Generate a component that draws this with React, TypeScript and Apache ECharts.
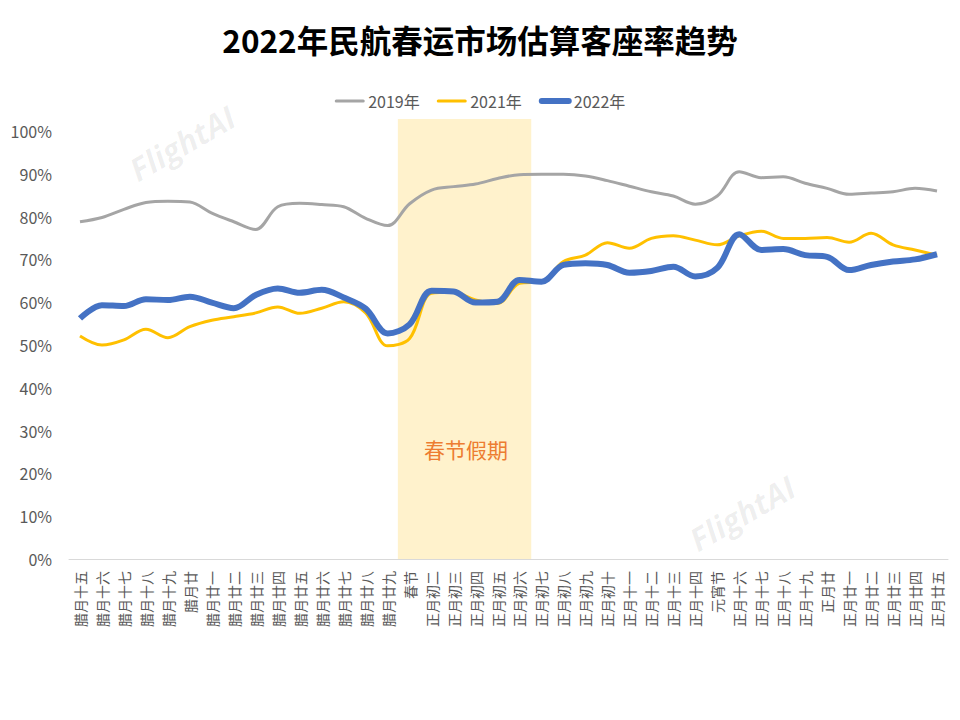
import React, { useEffect, useRef } from "react";
import * as echarts from "echarts";

const categories = [
  "腊月十五", "腊月十六", "腊月十七", "腊月十八", "腊月十九", "腊月廿", "腊月廿一", "腊月廿二", "腊月廿三", "腊月廿四",
  "腊月廿五", "腊月廿六", "腊月廿七", "腊月廿八", "腊月廿九", "春节", "正月初二", "正月初三", "正月初四", "正月初五",
  "正月初六", "正月初七", "正月初八", "正月初九", "正月初十", "正月十一", "正月十二", "正月十三", "正月十四", "元宵节",
  "正月十六", "正月十七", "正月十八", "正月十九", "正月廿", "正月廿一", "正月廿二", "正月廿三", "正月廿四", "正月廿五",
];

const series2019 = [
  78.8, 79.8, 81.7, 83.3, 83.6, 83.4, 80.8, 78.8, 77.0, 82.3,
  83.1, 82.8, 82.3, 79.6, 77.9, 83.0, 86.2, 87.0, 87.6, 88.9,
  89.8, 89.9, 89.9, 89.5, 88.4, 87.1, 85.8, 84.8, 82.9, 84.8,
  90.5, 89.1, 89.3, 87.8, 86.6, 85.2, 85.5, 85.8, 86.6, 86.0,
];

const series2021 = [
  52.1, 50.0, 51.2, 53.7, 51.7, 54.3, 55.8, 56.6, 57.5, 58.9,
  57.4, 58.6, 60.1, 57.5, 49.8, 51.5, 62.1, 62.3, 60.5, 59.7,
  64.4, 64.8, 69.5, 71.0, 73.9, 72.6, 74.9, 75.5, 74.5, 73.4,
  75.5, 76.6, 74.9, 74.9, 75.1, 74.0, 76.1, 73.4, 72.2, 71.0,
];

const series2022 = [
  56.2, 59.3, 59.1, 60.7, 60.5, 61.3, 59.9, 58.6, 61.7, 63.2,
  62.2, 62.9, 61.1, 58.5, 52.7, 54.8, 62.7, 62.5, 59.9, 60.1,
  65.2, 64.8, 68.7, 69.1, 68.7, 66.9, 67.3, 68.3, 66.0, 68.0,
  75.9, 72.2, 72.4, 71.0, 70.6, 67.5, 68.7, 69.5, 70.0, 71.2,
];

// holiday band: 春节 .. 正月初六 (full height of the plot)
const holidayBand = categories.map((_, i) => (i >= 15 && i <= 20 ? 102.8 : null));

const yTicks = [0, 10, 20, 30, 40, 50, 60, 70, 80, 90, 100];

export default function App() {
  const ref = useRef<HTMLDivElement>(null);

  useEffect(() => {
    document.body.style.margin = "0";
    const chart = echarts.init(ref.current!, null, { renderer: "svg" });
    const font = '"Noto Sans CJK SC", "Noto Sans", sans-serif';
    const watermark = (x: number, y: number) => ({
      type: "text",
      x,
      y,
      rotation: Math.PI / 6,
      style: {
        text: "FlightAI",
        fill: "rgba(0,0,0,0.065)",
        fontSize: 32,
        fontWeight: "bold",
        fontStyle: "italic",
        fontFamily: '"Open Sans", "Noto Sans", sans-serif',
        align: "center",
        verticalAlign: "middle",
      },
      z: 0,
    });
    chart.setOption({
      animation: false,
      backgroundColor: "#ffffff",
      textStyle: { fontFamily: font },
      title: {
        text: "2022年民航春运市场估算客座率趋势",
        left: "center",
        top: 18,
        textStyle: { fontSize: 31.5, fontWeight: "bold", color: "#000000", fontFamily: font },
      },
      legend: {
        top: 88,
        left: "center",
        itemGap: 17,
        itemWidth: 27,
        itemHeight: 12,
        data: [
          { name: "2019年", lineStyle: { width: 3, cap: "round" } },
          { name: "2021年", lineStyle: { width: 3, cap: "round" } },
          { name: "2022年", lineStyle: { width: 6, cap: "round" } },
        ],
        itemStyle: { color: "transparent", borderColor: "transparent", borderWidth: 0, opacity: 0 },
        textStyle: { fontSize: 16, color: "#595959", fontFamily: font },
      },
      grid: { left: 69, right: 12, top: 119, bottom: 161, containLabel: false },
      xAxis: {
        type: "category",
        data: categories,
        boundaryGap: true,
        axisLine: { show: true, lineStyle: { color: "#D9D9D9", width: 1 } },
        axisTick: { show: false },
        axisLabel: {
          interval: 0,
          rotate: 90,
          margin: 12,
          color: "#595959",
          fontSize: 14,
          fontFamily: font,
        },
      },
      yAxis: {
        type: "value",
        min: 0,
        max: 102.8,
        interval: 10,
        axisLine: { show: false },
        axisTick: { show: false },
        splitLine: { show: false },
        axisLabel: {
          margin: 17,
          color: "#595959",
          fontSize: 16,
          fontFamily: font,
          formatter: (v: number) => (yTicks.indexOf(Math.round(v * 10) / 10) >= 0 ? `${v}%` : ""),
        },
      },
      graphic: [
        {
          type: "text",
          x: 466,
          y: 449,
          style: {
            text: "春节假期",
            fill: "#ED7D31",
            fontSize: 21,
            fontFamily: font,
            align: "center",
            verticalAlign: "middle",
          },
          z: 5,
        },
        watermark(182, 143),
        watermark(742, 513),
      ],
      series: [
        {
          name: "春节假期",
          type: "bar",
          data: holidayBand,
          barWidth: 23.5,
          itemStyle: { color: "#FFF2CC" },
          z: 1,
          silent: true,
        },
        {
          name: "2019年",
          type: "line",
          data: series2019,
          smooth: 0.35,
          symbol: "none",
          lineStyle: { color: "#A5A5A5", width: 3 },
          itemStyle: { color: "#A5A5A5" },
          z: 3,
        },
        {
          name: "2021年",
          type: "line",
          data: series2021,
          smooth: 0.35,
          symbol: "none",
          lineStyle: { color: "#FFC000", width: 3 },
          itemStyle: { color: "#FFC000" },
          z: 3,
        },
        {
          name: "2022年",
          type: "line",
          data: series2022,
          smooth: 0.35,
          symbol: "none",
          lineStyle: { color: "#4472C4", width: 6 },
          itemStyle: { color: "#4472C4" },
          z: 4,
        },
      ],
    });
    return () => chart.dispose();
  }, []);

  return <div ref={ref} style={{ width: 960, height: 720 }} />;
}
